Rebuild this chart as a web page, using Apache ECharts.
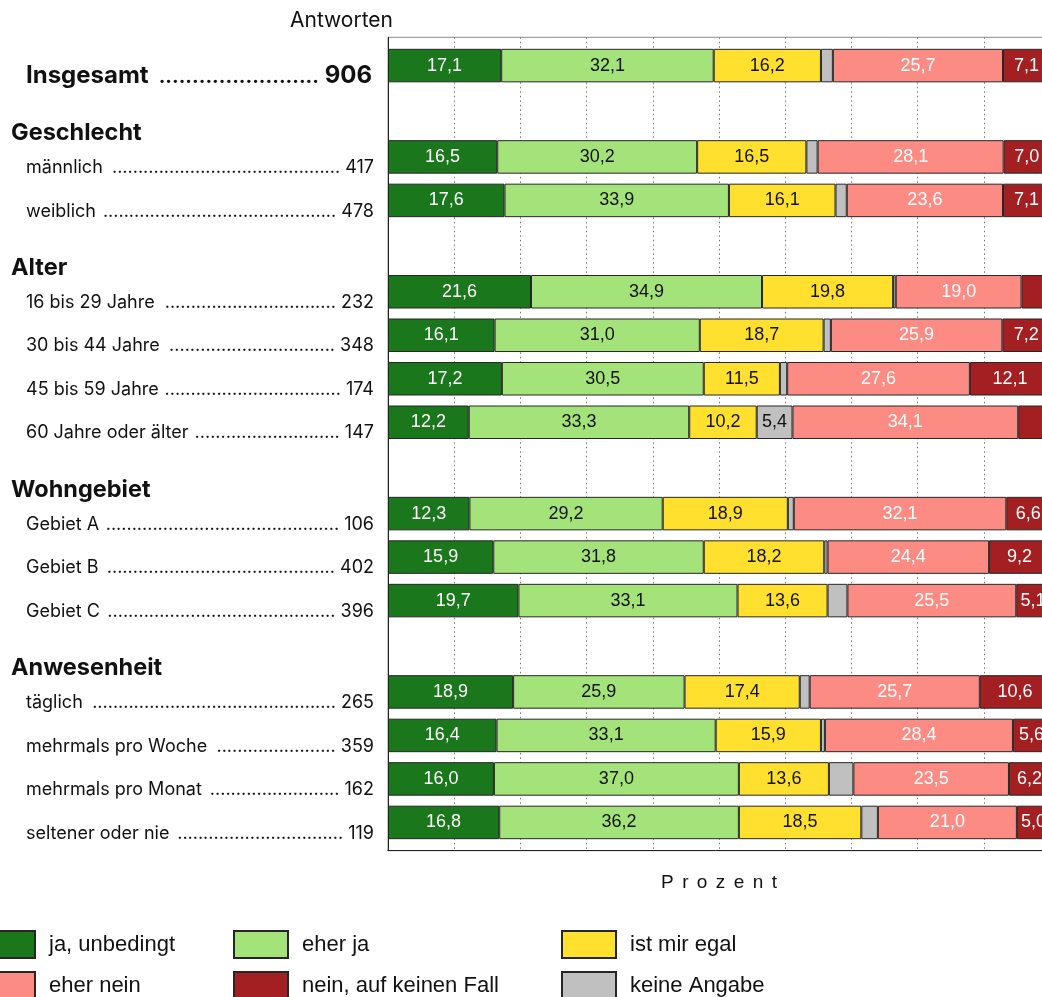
<!DOCTYPE html>
<html><head><meta charset="utf-8">
<script src="https://cdn.jsdelivr.net/npm/echarts@6/dist/echarts.min.js"></script>
<style>html,body{margin:0;padding:0;background:#fff;overflow:hidden}#c{width:1042px;height:997px}</style>
</head><body><div id="c"></div>
<script>
// ---------------- data ----------------
const groupTitles = ['Geschlecht', 'Alter', 'Wohngebiet', 'Anwesenheit'];
const rowLabels = ['Insgesamt', 'männlich', 'weiblich', '16 bis 29 Jahre', '30 bis 44 Jahre', '45 bis 59 Jahre', '60 Jahre oder älter', 'Gebiet A', 'Gebiet B', 'Gebiet C', 'täglich', 'mehrmals pro Woche', 'mehrmals pro Monat', 'seltener oder nie'];
const rowGroup = [-1, 0, 0, 1, 1, 1, 1, 2, 2, 2, 3, 3, 3, 3];
const answers = [906, 417, 478, 232, 348, 174, 147, 106, 402, 396, 265, 359, 162, 119];
const seriesNames = ['ja, unbedingt', 'eher ja', 'ist mir egal', 'keine Angabe', 'eher nein', 'nein, auf keinen Fall'];
const jaUnbedingt    = [17.1, 16.5, 17.6, 21.6, 16.1, 17.2, 12.2, 12.3, 15.9, 19.7, 18.9, 16.4, 16.0, 16.8];
const eherJa         = [32.1, 30.2, 33.9, 34.9, 31.0, 30.5, 33.3, 29.2, 31.8, 33.1, 25.9, 33.1, 37.0, 36.2];
const istMirEgal     = [16.2, 16.5, 16.1, 19.8, 18.7, 11.5, 10.2, 18.9, 18.2, 13.6, 17.4, 15.9, 13.6, 18.5];
const keineAngabe    = [1.8, 1.7, 1.7, 0.4, 1.1, 1.1, 5.4, 0.9, 0.5, 3.0, 1.5, 0.6, 3.7, 2.5];
const eherNein       = [25.7, 28.1, 23.6, 19.0, 25.9, 27.6, 34.1, 32.1, 24.4, 25.5, 25.7, 28.4, 23.5, 21.0];
const neinKeinenFall = [7.1, 7.0, 7.1, 4.3, 7.2, 12.1, 4.8, 6.6, 9.2, 5.1, 10.6, 5.6, 6.2, 5.0];
const seriesValues = [jaUnbedingt, eherJa, istMirEgal, keineAngabe, eherNein, neinKeinenFall];
const legendColumns = [['ja, unbedingt', 'eher nein'], ['eher ja', 'nein, auf keinen Fall'], ['ist mir egal', 'keine Angabe']];

// ---------------- styles ----------------
const colors = ['#1a771c', '#a4e27a', '#ffe02e', '#c0c0c0', '#fc8b83', '#a31f22'];
const labelColors = ['#ffffff', '#111111', '#111111', '#111111', '#ffffff', '#ffffff'];
const LEFT_FONT = 'Inter';
const NUM_FONT = 'Liberation Sans';

// ---------------- slot layout (fine-grained category axis) ----------------
const ROW_STEP = 10, GROUP_STEP = 21, PAD = 6, HEADER_OFF = 6, LABEL_OFF = 2;
const barSlot = [], headerSlot = [];
let s = PAD;
rowLabels.forEach((_, i) => {
  if (i > 0) {
    if (rowGroup[i] !== rowGroup[i - 1]) { s += GROUP_STEP; headerSlot[rowGroup[i]] = s - HEADER_OFF; }
    else s += ROW_STEP;
  }
  barSlot.push(s);
});
const SLOTS = s + PAD + 1;
const slotIds = Array.from({length: SLOTS}, (_, i) => 'k' + i);

// ---------------- left labels with dotted leaders ----------------
const ctx = document.createElement('canvas').getContext('2d');
function tw(text, font) { ctx.font = font; return ctx.measureText(text).width; }
const LABEL_W = 348;
const rich = {
  h: {fontFamily: LEFT_FONT, fontSize: 23.5, fontWeight: 'bold', color: '#111', width: 363, align: 'left'},
  d: {fontFamily: LEFT_FONT, fontSize: 18, color: '#111'},
  c: {fontFamily: LEFT_FONT, fontSize: 18, color: '#111'},
  Id: {fontFamily: LEFT_FONT, fontSize: 20, fontWeight: 'bold', color: '#111', verticalAlign: 'bottom', lineHeight: 20, padding: [0, 0, 1, 0]},
  Ic: {fontFamily: LEFT_FONT, fontSize: 24, fontWeight: 'bold', color: '#111', padding: [0, 2, 0, 0]}
};
const slotLabel = {};
rowLabels.forEach((name, i) => {
  const big = i === 0;
  const fs = big ? 24 : 18;
  const font = (big ? 'bold ' : '') + fs + 'px ' + LEFT_FONT;
  const dotFont = big ? 'bold 20px ' + LEFT_FONT : font;
  const W = big ? LABEL_W - 2 : LABEL_W;
  const numTxt = ' ' + answers[i];
  const numW = tw(numTxt, font);
  const nameW = tw(name + ' ', font);
  const n = Math.max(0, Math.floor((W - nameW - numW) / tw('.', dotFont)));
  const dots = '.'.repeat(n);
  const key = 'n' + i;
  rich[key] = {fontFamily: LEFT_FONT, fontSize: fs, fontWeight: big ? 'bold' : 'normal', color: '#111',
               width: W - tw(dots, dotFont) - numW, align: 'left'};
  slotLabel[barSlot[i] + LABEL_OFF] = '{' + key + '|' + name + '}{' + (big ? 'Id' : 'd') + '|' + dots + '}{' + (big ? 'Ic' : 'c') + '|' + numTxt + '}';
});
groupTitles.forEach((g, gi) => { slotLabel[headerSlot[gi]] = '{h|' + g + '}'; });

// ---------------- series ----------------
const fmt = v => v.toFixed(1).replace('.', ',');
const series = seriesNames.map((name, si) => {
  const data = Array(SLOTS).fill('-');
  seriesValues[si].forEach((v, i) => { data[barSlot[i]] = v; });
  return {
    type: 'bar', name, stack: 'total', data,
    barMinWidth: 33.5,
    itemStyle: {color: colors[si], borderColor: '#262626', borderWidth: 1},
    label: {show: true, position: 'inside', color: labelColors[si], fontFamily: NUM_FONT, fontSize: 18,
            formatter: p => (typeof p.value === 'number' && p.value >= 5) ? fmt(p.value) : ''},
    emphasis: {disabled: true},
    animation: false
  };
});

const xName = 'Prozent'.split('').map(ch => '{l|' + ch + '}').join('');

const legendLeft = [-20, 233, 561], legendTop = [930, 971];
const legends = [];
legendColumns.forEach((col, ci) => col.forEach((nm, ri) => legends.push({
  orient: 'horizontal', left: legendLeft[ci], top: legendTop[ri], padding: 0,
  itemWidth: 54, itemHeight: 27, icon: 'rect',
  data: [nm], selectedMode: false,
  textStyle: {fontFamily: NUM_FONT, fontSize: 22, color: '#111', padding: [0, 0, 0, 9]}
})));

const option = {
  backgroundColor: '#fff',
  animation: false,
  title: {text: 'Antworten', right: 649, top: 10, padding: 0,
          textStyle: {fontFamily: LEFT_FONT, fontWeight: 'normal', fontSize: 21, color: '#111'}},
  legend: legends,
  grid: {left: 388, right: -8, top: 37.3, bottom: 146.3, outerBoundsMode: 'none', containLabel: false,
         show: true, borderColor: '#8a8a8a', borderWidth: 1},
  xAxis: {
    type: 'value', min: 0, max: 100, interval: 10,
    axisLabel: {show: false}, axisTick: {show: false},
    axisLine: {show: true, lineStyle: {color: '#222', width: 1}},
    splitLine: {show: true, lineStyle: {type: [1.5, 3], color: '#777', width: 1}},
    name: xName, nameLocation: 'middle', nameGap: 23,
    nameTextStyle: {rich: {l: {fontFamily: NUM_FONT, fontSize: 19, color: '#111', padding: [0, 4.2, 0, 4.2]}}}
  },
  yAxis: {
    type: 'category', inverse: true, data: slotIds,
    axisLine: {show: true, lineStyle: {color: '#222', width: 1}},
    axisTick: {show: false}, splitLine: {show: false},
    axisLabel: {interval: 0, margin: 14, padding: [4, 0, 0, 0], formatter: (v, idx) => slotLabel[idx] || '', rich}
  },
  series
};
const chart = echarts.init(document.getElementById('c'), null, {renderer: 'canvas'});
chart.setOption(option);
</script></body></html>
